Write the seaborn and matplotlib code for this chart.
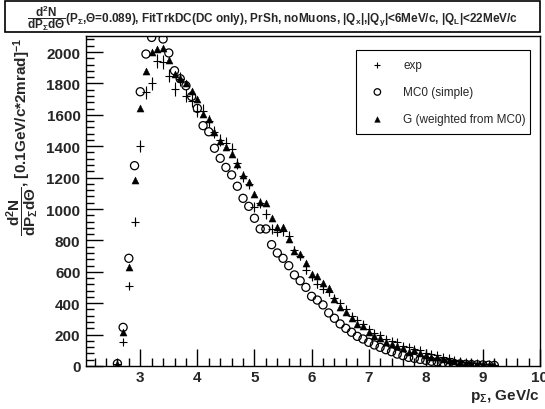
import numpy as np
import pandas as pd
import matplotlib
matplotlib.use("Agg")
import matplotlib.pyplot as plt
from matplotlib.ticker import MultipleLocator
from matplotlib.patches import Rectangle
import seaborn as sns

# ---------------- data ----------------
p_bins = [round(2.6 + 0.1 * i, 1) for i in range(67)]  # 2.6 .. 9.2 GeV/c

exp_vals = [10, 151, 512, 920, 1403, 1743, 1800, 1945, 1934, 1849,
            1764, 1828, 1722, 1690, 1626, 1626, 1560, 1488, 1440, 1420,
            1382, 1290, 1208, 1159, 1011, 1040, 968, 873, 855, 860,
            830, 740, 700, 610, 570, 522, 490, 469, 430, 400,
            360, 320, 295, 270, 235, 210, 200, 175, 160, 150,
            130, 120, 110, 100, 85, 78, 70, 58, 48, 40,
            35, 28, 22, 18, 15, 10, 8]

mc0_vals = [15, 246, 686, 1276, 1747, 1987, 2093, 2180, 2083, 1994,
            1881, 1830, 1785, 1717, 1641, 1531, 1492, 1387, 1323, 1265,
            1217, 1145, 1068, 1017, 941, 873, 873, 773, 720, 686,
            639, 580, 543, 501, 444, 420, 389, 338, 304, 268,
            240, 215, 189, 172, 151, 134, 119, 104, 91, 76,
            66, 55, 49, 42, 36, 30, 26, 22, 18, 15,
            13, 11, 9, 8, 7, 5, 4]

g_vals = [15, 219, 629, 1187, 1641, 1881, 1998, 2019, 2023, 1952,
          1860, 1832, 1803, 1754, 1701, 1605, 1573, 1488, 1435, 1393,
          1350, 1287, 1217, 1174, 1096, 1043, 1038, 941, 883, 883,
          809, 734, 713, 656, 586, 573, 529, 495, 427, 374,
          342, 304, 268, 253, 218, 189, 176, 155, 140, 125,
          113, 91, 100, 80, 70, 60, 55, 45, 38, 30,
          26, 22, 18, 15, 12, 8, 6]

series_names = ["exp", "MC0 (simple)", "G (weighted from MC0)"]
x_tick_labels = ["3", "4", "5", "6", "7", "8", "9", "10"]

title_text = (r"$\dfrac{\mathbf{d^{2}N}}{\mathbf{dP_{\Sigma}d\Theta}}$"
              r"(P$_{\Sigma}$,$\Theta$=0.089), FitTrkDC(DC only), PrSh, noMuons, "
              r"|Q$_{x}$|,|Q$_{y}$|<6MeV/c, |Q$_{L}$|<22MeV/c")
ylabel_text = (r"$\dfrac{\mathbf{d^{2}N}}{\mathbf{dP_{\Sigma}d\Theta}}$, "
               r"[0.1GeV/c*2mrad]$^{-1}$")
xlabel_text = r"p$_{\Sigma}$, GeV/c"

# ---------------- style ----------------
sns.set_style("ticks")
plt.rcParams["font.family"] = ["Liberation Sans", "DejaVu Sans"]
plt.rcParams["mathtext.fontset"] = "custom"
plt.rcParams["mathtext.rm"] = "Liberation Sans:bold"
plt.rcParams["mathtext.bf"] = "Liberation Sans:bold"
plt.rcParams["mathtext.it"] = "Liberation Sans:bold"
plt.rcParams["mathtext.sf"] = "Liberation Sans:bold"

df = pd.DataFrame({"p": p_bins, "exp": exp_vals, "mc0": mc0_vals, "g": g_vals})

fig = plt.figure(figsize=(5.45, 4.10), dpi=100)
ax = fig.add_axes([86 / 545, 43 / 410, 454 / 545, 330 / 410])

# G (weighted) - filled triangles
sns.scatterplot(data=df, x="p", y="g", marker="^", s=26, color="black",
                edgecolor="black", linewidth=0.3, ax=ax, label=series_names[2],
                zorder=3)
# MC0 - open circles
sns.scatterplot(data=df, x="p", y="mc0", marker="o", s=34, facecolor="none",
                edgecolor="black", linewidth=0.9, ax=ax, label=series_names[1],
                zorder=4)
# exp - crosses with vertical error bars
ax.errorbar(df["p"], df["exp"], yerr=np.sqrt(df["exp"]), fmt="none",
            ecolor="black", elinewidth=0.8, capsize=0, zorder=5)
sns.scatterplot(data=df, x="p", y="exp", marker="+", s=30, color="black",
                linewidth=0.8, ax=ax, label=series_names[0], zorder=5)

ax.set_xlim(2.05, 10.0)
ax.set_ylim(0, 2102)

ax.xaxis.set_major_locator(MultipleLocator(1))
ax.xaxis.set_minor_locator(MultipleLocator(0.2))
ax.yaxis.set_major_locator(MultipleLocator(200))
ax.yaxis.set_minor_locator(MultipleLocator(40))
ax.tick_params(axis="both", which="major", direction="in", length=12,
               width=1.0, labelsize=11, color="black")
ax.tick_params(axis="both", which="minor", direction="in", length=6,
               width=1.0, color="black")
ax.tick_params(axis="x", which="major", pad=3)
ax.tick_params(axis="y", which="major", pad=4)
ax.set_xticks([3, 4, 5, 6, 7, 8, 9, 10])
ax.set_xticklabels(x_tick_labels, fontweight="bold")
for lbl in ax.get_yticklabels():
    lbl.set_fontweight("bold")

for sp in ax.spines.values():
    sp.set_linewidth(1.0)
    sp.set_color("black")
    sp.set_visible(True)

ax.set_xlabel("")
ax.set_ylabel("")
fig.text(540 / 545, 1 - 396 / 410, xlabel_text, ha="right", va="center",
         fontsize=11, fontweight="bold")
fig.text(23 / 545, 1 - 38 / 410, ylabel_text, ha="center", va="top",
         rotation=90, fontsize=11, fontweight="bold")

# legend
handles, labels = ax.get_legend_handles_labels()
order = [labels.index(n) for n in series_names]
leg = ax.legend([handles[i] for i in order], [labels[i] for i in order],
                loc="upper left", bbox_to_anchor=(0.595, 0.709, 0.383, 0.249),
                mode="expand", borderaxespad=0, frameon=True, fancybox=False,
                edgecolor="black", facecolor="white", framealpha=1,
                fontsize=8.5, labelspacing=1.25, handletextpad=1.2,
                borderpad=0.8, markerscale=0.8)
leg.get_frame().set_linewidth(0.8)

# title box
fig.patches.append(Rectangle((5 / 545, 1 - 33 / 410), 535 / 545, 31 / 410,
                             transform=fig.transFigure, facecolor="white",
                             edgecolor="black", linewidth=1.2, zorder=0))
fig.text(0.5, 1 - 18 / 410, title_text, ha="center", va="center",
         fontsize=8.5, fontweight="bold")

fig.savefig("out.png", dpi=100)
